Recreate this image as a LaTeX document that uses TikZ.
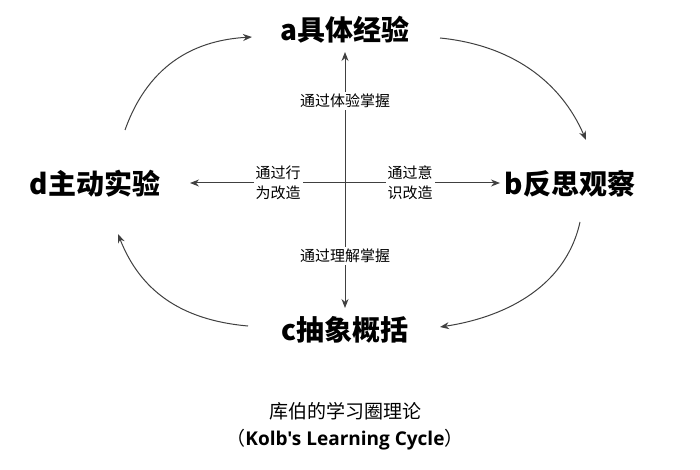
\documentclass[tikz,border=0pt]{standalone}
\usepackage{fontspec}
\setmainfont{Noto Sans CJK SC}
\newfontfamily\latinf{Open Sans}
\usetikzlibrary{arrows.meta}
\begin{document}
\begin{tikzpicture}[x=1pt,y=-1pt,
  big/.style={font=\fontsize{28}{30}\selectfont\bfseries,inner sep=2pt},
  lab/.style={font=\fontsize{15}{20}\selectfont,align=center,fill=white,inner sep=2pt},
  arr/.style={-{Stealth[length=9pt,width=7pt]},line width=1pt,color=black!75}]
\useasboundingbox (0,0) rectangle (700,470);
\node[big] (a) at (345,30) {a具体经验};
\node[big] (b) at (570,184) {b反思观察};
\node[big] (d) at (95,184) {d主动实验};
\node[big] (c) at (345,330) {c抽象概括};
\coordinate (o) at (345,183);
\coordinate (ra) at (345,52); \coordinate (rc) at (345,308);
\coordinate (rd) at (190,183); \coordinate (rb) at (500,183);
\draw[arr] (o) -- (ra);
\draw[arr] (o) -- (rc);
\draw[arr] (o) -- (rd);
\draw[arr] (o) -- (rb);
\node[lab] (l1) at (345,101) {通过体验掌握};
\node[lab] (l2) at (345,256) {通过理解掌握};
\node[lab] (l3) at (278,183) {通过行\\为改造};
\node[lab] (l4) at (410,183) {通过意\\识改造};
\coordinate (s1) at (125,130); \coordinate (e1) at (252,37);
\draw[arr] (s1) .. controls (150,60) and (200,40) .. (e1);
\coordinate (s2) at (440,38); \coordinate (e2) at (586,140);
\draw[arr] (s2) .. controls (510,45) and (560,80) .. (e2);
\coordinate (s3) at (580,222); \coordinate (e3) at (440,327);
\draw[arr] (s3) .. controls (565,290) and (500,318) .. (e3);
\coordinate (s4) at (248,326); \coordinate (e4) at (118,234);
\draw[arr] (s4) .. controls (180,320) and (140,290) .. (e4);
\node[font=\fontsize{19}{22}\selectfont] (t1) at (345,411) {库伯的学习圈理论};
\node[font=\fontsize{19}{22}\selectfont] (t2) at (345,440) {（{\latinf\bfseries Kolb's Learning Cycle}）};
\end{tikzpicture}
\end{document}
